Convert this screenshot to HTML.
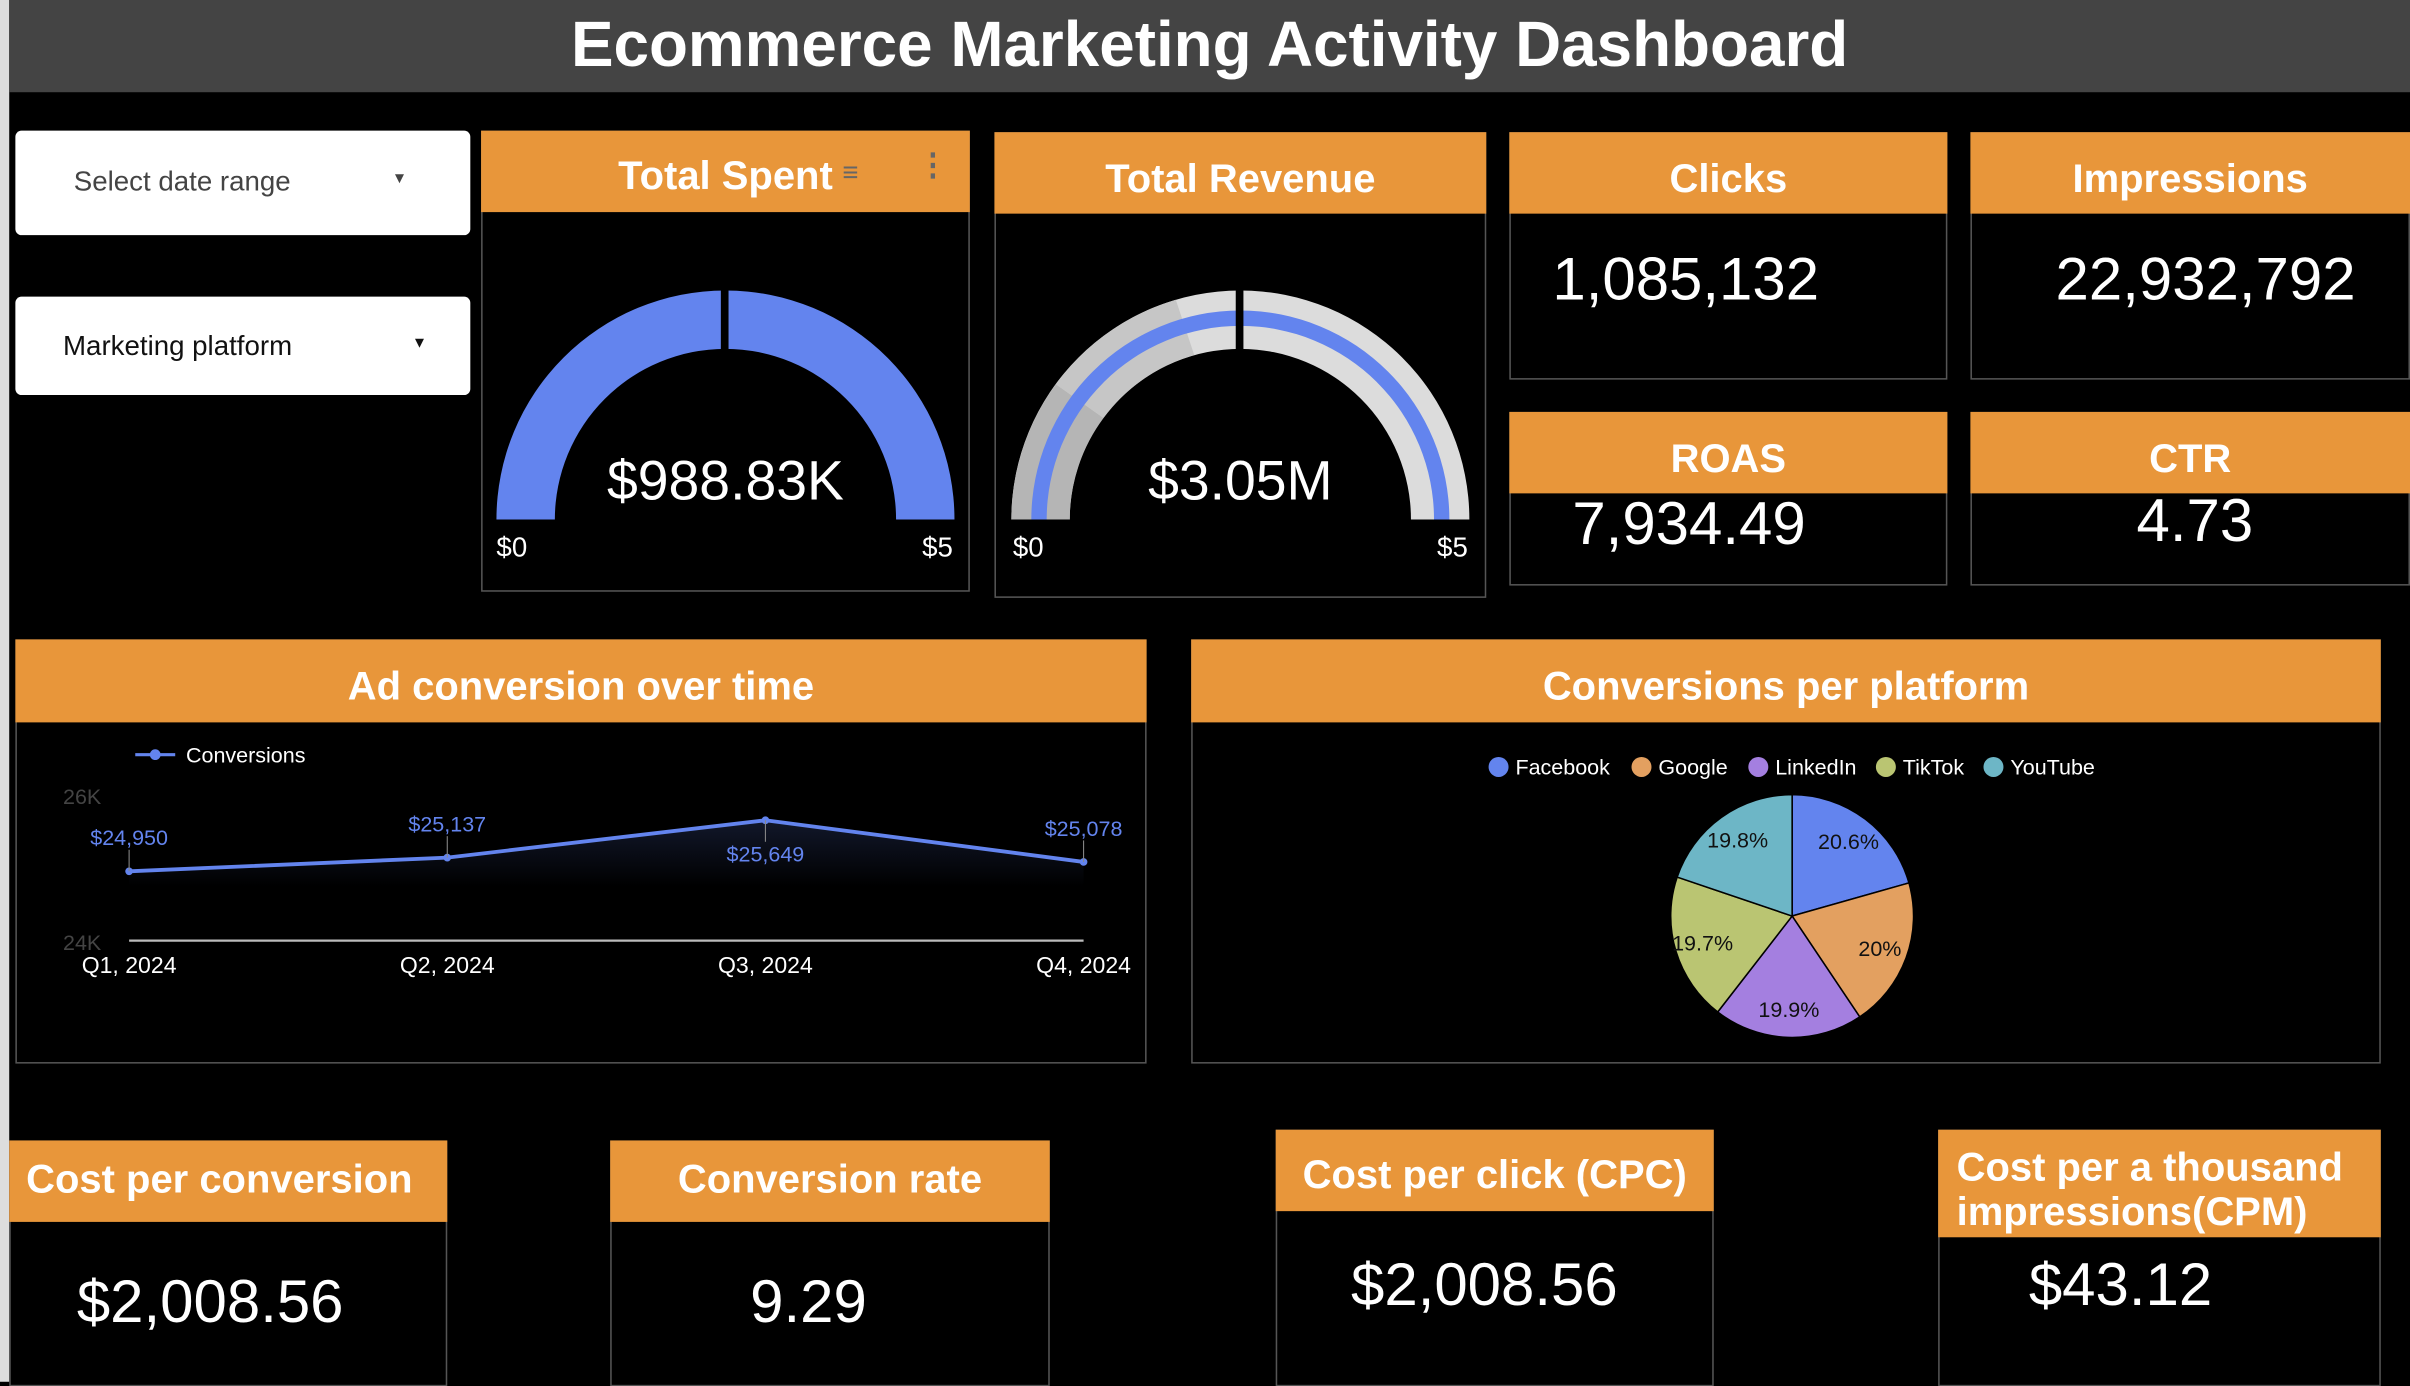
<!DOCTYPE html>
<html><head><meta charset="utf-8">
<style>
html,body{margin:0;padding:0;background:#000;overflow:hidden}
#wrap{position:absolute;left:0;top:0;width:1568px;height:899px;transform:scale(1.53699);transform-origin:0 0;background:#000;font-family:"Liberation Sans",Arial,sans-serif;color:#fff}
.abs{position:absolute}
.hdr{position:absolute;background:#E8963A;color:#fff;font-weight:bold;font-size:26px;text-align:center;box-sizing:border-box}
.card{position:absolute;border:1px solid #555;box-sizing:border-box}
.val{position:absolute;font-size:39px;color:#fff;white-space:nowrap}
.dd{position:absolute;background:#fff;border-radius:4px;font-size:18px}
</style></head><body>
<div id="wrap">
<div class="abs" style="left:0;top:0;width:6px;height:899px;background:#ddd"></div>
<div class="abs" style="left:6px;top:0;width:1562px;height:60px;background:#444;text-align:center;font-weight:bold;font-size:41.5px;line-height:58px">Ecommerce Marketing Activity Dashboard</div>

<div class="dd" style="left:10px;top:85px;width:296px;height:68px">
<span class="abs" style="left:38px;top:23px;color:#444">Select date range</span>
<span class="abs" style="left:245px;top:26px;color:#444;font-size:10px">▼</span></div>
<div class="dd" style="left:10px;top:193px;width:296px;height:64px">
<span class="abs" style="left:31px;top:22px;color:#111">Marketing platform</span>
<span class="abs" style="left:258px;top:25px;color:#111;font-size:10px">▼</span></div>

<!-- Total Spent -->
<div class="card" style="left:313px;top:85px;width:318px;height:300px"></div>
<div class="hdr" style="left:313px;top:85px;width:318px;height:53px;line-height:58px">Total Spent</div>
<div class="abs" style="left:548px;top:106px;width:18px;height:14px;font-size:18px;color:#666;line-height:12px">≡</div>
<div class="abs" style="left:597px;top:104px;font-size:20px;color:#666;line-height:8px;font-weight:bold">⋮</div>
<svg class="abs" style="left:313px;top:85px" width="318" height="300">
<path d="M10,253 A149,149 0 0 1 308,253 L270,253 A111,111 0 0 0 48,253 Z" fill="#6384EE"/>
<rect x="156" y="100" width="5" height="48" fill="#000"/>
<text x="159" y="240" font-size="36" fill="#fff" text-anchor="middle">$988.83K</text>
<text x="10" y="277" font-size="18" fill="#fff">$0</text>
<text x="307" y="277" font-size="18" fill="#fff" text-anchor="end">$5</text>
</svg>

<!-- Total Revenue -->
<div class="card" style="left:647px;top:86px;width:320px;height:303px"></div>
<div class="hdr" style="left:647px;top:86px;width:320px;height:53px;line-height:60px">Total Revenue</div>
<svg class="abs" style="left:647px;top:86px" width="320" height="303">
<path d="M11,252 A149,149 0 0 1 309,252 L271,252 A111,111 0 0 0 49,252 Z" fill="#dcdcdc"/>
<path d="M11,252 A149,149 0 0 1 40,164 L71,186 A111,111 0 0 0 49,252 Z" fill="#b5b5b5"/>
<path d="M40,164 A149,149 0 0 1 118,109 L130,145 A111,111 0 0 0 71,186 Z" fill="#c6c6c6"/>
<path d="M24,252 A136,136 0 0 1 296,252 L286,252 A126,126 0 0 0 34,252 Z" fill="#6384EE"/>
<rect x="157" y="100" width="5" height="46" fill="#000"/>
<text x="160" y="239" font-size="36" fill="#fff" text-anchor="middle">$3.05M</text>
<text x="12" y="276" font-size="18" fill="#fff">$0</text>
<text x="308" y="276" font-size="18" fill="#fff" text-anchor="end">$5</text>
</svg>

<!-- Clicks / Impressions -->
<div class="card" style="left:982px;top:86px;width:285px;height:161px"></div>
<div class="hdr" style="left:982px;top:86px;width:285px;height:53px;line-height:60px">Clicks</div>
<div class="val" style="left:1010px;top:161px">1,085,132</div>
<div class="card" style="left:1282px;top:86px;width:286px;height:161px"></div>
<div class="hdr" style="left:1282px;top:86px;width:286px;height:53px;line-height:60px">Impressions</div>
<div class="val" style="left:1282px;width:306px;text-align:center;top:161px">22,932,792</div>

<!-- ROAS / CTR -->
<div class="card" style="left:982px;top:268px;width:285px;height:113px"></div>
<div class="hdr" style="left:982px;top:268px;width:285px;height:53px;line-height:60px">ROAS</div>
<div class="val" style="left:1023px;top:320px">7,934.49</div>
<div class="card" style="left:1282px;top:268px;width:286px;height:113px"></div>
<div class="hdr" style="left:1282px;top:268px;width:286px;height:53px;line-height:60px">CTR</div>
<div class="val" style="left:1282px;width:292px;text-align:center;top:318px">4.73</div>

<!-- Line chart -->
<div class="card" style="left:10px;top:416px;width:736px;height:276px"></div>
<div class="hdr" style="left:10px;top:416px;width:736px;height:54px;line-height:60px">Ad conversion over time</div>
<svg id="lc" class="abs" style="left:0;top:0" width="760" height="700"></svg>

<!-- Pie -->
<div class="card" style="left:775px;top:416px;width:774px;height:276px"></div>
<div class="hdr" style="left:775px;top:416px;width:774px;height:54px;line-height:60px">Conversions per platform</div>
<svg id="pc" class="abs" style="left:775px;top:470px" width="774" height="222"></svg>

<!-- Bottom cards -->
<div class="card" style="left:6px;top:742px;width:285px;height:160px"></div>
<div class="hdr" style="left:6px;top:742px;width:285px;height:53px;line-height:50px;text-align:left;padding-left:11px">Cost per conversion</div>
<div class="val" style="left:50px;top:826px">$2,008.56</div>
<div class="card" style="left:397px;top:742px;width:286px;height:160px"></div>
<div class="hdr" style="left:397px;top:742px;width:286px;height:53px;line-height:50px">Conversion rate</div>
<div class="val" style="left:397px;width:258px;text-align:center;top:826px">9.29</div>
<div class="card" style="left:830px;top:735px;width:285px;height:167px"></div>
<div class="hdr" style="left:830px;top:735px;width:285px;height:53px;line-height:58px">Cost per click (CPC)</div>
<div class="val" style="left:879px;top:815px">$2,008.56</div>
<div class="card" style="left:1261px;top:735px;width:288px;height:167px"></div>
<div class="hdr" style="left:1261px;top:735px;width:288px;height:70px;text-align:left;padding:10px 0 0 12px;line-height:29px">Cost per a thousand impressions(CPM)</div>
<div class="val" style="left:1320px;top:815px">$43.12</div>
</div>

<script>
const quarters = ["Q1, 2024","Q2, 2024","Q3, 2024","Q4, 2024"];
const conversions = [24950, 25137, 25649, 25078];
const valueLabels = ["$24,950","$25,137","$25,649","$25,078"];
const yTicks = [24000, 26000];
const yTickLabels = ["24K","26K"];

const platforms = ["Facebook","Google","LinkedIn","TikTok","YouTube"];
const shares = [20.6, 20, 19.9, 19.7, 19.8];
const shareLabels = ["20.6%","20%","19.9%","19.7%","19.8%"];
const pieColors = ["#6384EE","#E3A060","#A47FE0","#BAC572","#6DB6C6"];

const NS="http://www.w3.org/2000/svg";
function mk(parent,tag,attrs,text){const e=document.createElementNS(NS,tag);for(const k in attrs)e.setAttribute(k,attrs[k]);if(text!==undefined)e.textContent=text;parent.appendChild(e);return e;}

// line chart
const lc=document.getElementById('lc');
const x0=84,x1=705,yBase=612,yTop=517;
const xs=i=>x0+(x1-x0)*i/(quarters.length-1);
const ys=v=>yBase-(v-yTicks[0])/(yTicks[1]-yTicks[0])*(yBase-yTop);
const defs=mk(lc,'defs',{});
const g=mk(defs,'linearGradient',{id:'ar',x1:0,y1:0,x2:0,y2:1});
mk(g,'stop',{offset:'0','stop-color':'#6384EE','stop-opacity':'0.18'});
mk(g,'stop',{offset:'1','stop-color':'#6384EE','stop-opacity':'0'});
const leg=mk(lc,'line',{x1:88,y1:491,x2:114,y2:491,stroke:'#6384EE','stroke-width':2});


mk(lc,'circle',{cx:101,cy:491,r:3.5,fill:'#6384EE'});
const lt=mk(lc,'text',{x:121,y:496,'font-size':14,fill:'#fff'},'Conversions');


yTicks.forEach((t,i)=>{const e=mk(lc,'text',{x:41,y:ys(t)+6,'font-size':14,fill:'#444'},yTickLabels[i]);

});
const axis=mk(lc,'line',{x1:x0,y1:yBase,x2:x1,y2:yBase,stroke:'#bbb','stroke-width':1.5});


let pts=conversions.map((v,i)=>xs(i)+','+ys(v)).join(' ');
const minY=Math.max(...conversions.map(ys));
mk(lc,'polygon',{points:pts+' '+xs(conversions.length-1)+','+(minY+10)+' '+xs(0)+','+(minY+10),fill:'url(#ar)'});
const pl=mk(lc,'polyline',{points:pts,fill:'none',stroke:'#6384EE','stroke-width':2.5});


const maxI=conversions.indexOf(Math.max(...conversions));
conversions.forEach((v,i)=>{
 const x=xs(i),y=ys(v);
 const p=mk(lc,'circle',{cx:x,cy:y,r:2.5,fill:'#6384EE'});
 
 
 const below=i===maxI;
 const ly=below?y+27:y-17;
 mk(lc,'line',{x1:x,y1:y,x2:x,y2:below?y+14:y-14,stroke:'#888','stroke-width':0.7});
 const t=mk(lc,'text',{x:x,y:ly,'font-size':14,fill:'#6384EE','text-anchor':'middle'},valueLabels[i]);
 
 
 const q=mk(lc,'text',{x:x,y:633,'font-size':15,fill:'#fff','text-anchor':'middle'},quarters[i]);
 
 
});

// pie
const pc=document.getElementById('pc');
const cx=391,cy=126,r=79;
let lx=[192,285,361,444,514];
platforms.forEach((p,i)=>{
 const c=mk(pc,'circle',{cx:lx[i]+8,cy:29,r:6.5,fill:pieColors[i]});
 
 
 const t=mk(pc,'text',{x:lx[i]+19,y:34,'font-size':14,fill:'#fff'},p);
 
 
});
const total=shares.reduce((a,b)=>a+b,0);
let a0=-Math.PI/2;
shares.forEach((s,i)=>{
 const a1=a0+s/total*2*Math.PI;
 const large=(a1-a0)>Math.PI?1:0;
 const d=`M${cx},${cy} L${cx+r*Math.cos(a0)},${cy+r*Math.sin(a0)} A${r},${r} 0 ${large} 1 ${cx+r*Math.cos(a1)},${cy+r*Math.sin(a1)} Z`;
 const sl=mk(pc,'path',{d:d,fill:pieColors[i],stroke:'#000','stroke-width':1});
 
 
 const am=(a0+a1)/2;
 const t=mk(pc,'text',{x:cx+r*0.77*Math.cos(am),y:cy+r*0.77*Math.sin(am)+5,'font-size':14,fill:'#111','text-anchor':'middle'},shareLabels[i]);
 
 
 a0=a1;
});
</script>
</body></html>
